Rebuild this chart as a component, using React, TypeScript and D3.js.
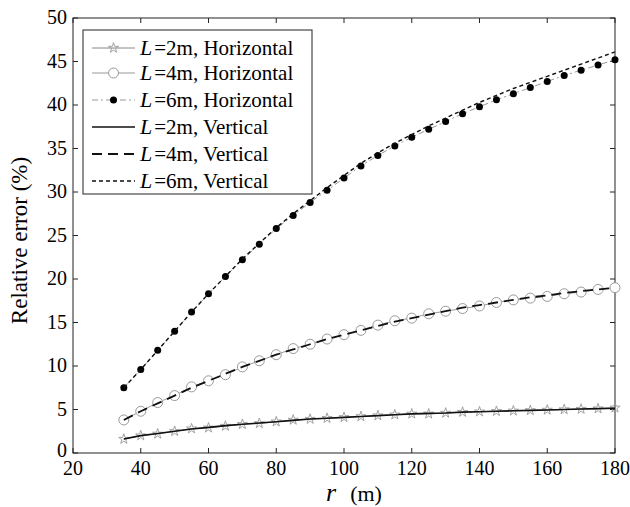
import React from 'react';
import * as d3 from 'd3';

// distance r (m)
const rValues = [35, 40, 45, 50, 55, 60, 65, 70, 75, 80, 85, 90, 95, 100, 105, 110, 115, 120, 125, 130, 135, 140, 145, 150, 155, 160, 165, 170, 175, 180];

const h2 = [1.6, 2.0, 2.2, 2.5, 2.8, 2.9, 3.1, 3.3, 3.4, 3.6, 3.8, 3.9, 4.0, 4.1, 4.2, 4.3, 4.4, 4.5, 4.5, 4.6, 4.7, 4.75, 4.8, 4.85, 4.9, 4.95, 5.0, 5.05, 5.1, 5.2];
const h4 = [3.8, 4.8, 5.8, 6.6, 7.6, 8.3, 9.0, 9.9, 10.6, 11.3, 12.0, 12.5, 13.1, 13.6, 14.1, 14.7, 15.2, 15.5, 16.0, 16.3, 16.6, 16.9, 17.3, 17.6, 17.8, 18.0, 18.3, 18.5, 18.8, 19.0];
const h6 = [7.5, 9.6, 11.8, 14.0, 16.2, 18.3, 20.3, 22.2, 24.0, 25.8, 27.3, 28.8, 30.2, 31.6, 33.0, 34.2, 35.3, 36.3, 37.2, 38.1, 39.0, 39.8, 40.6, 41.3, 42.0, 42.7, 43.4, 44.0, 44.6, 45.2];
const v2 = [1.6, 2.0, 2.25, 2.5, 2.75, 2.95, 3.15, 3.3, 3.45, 3.6, 3.75, 3.9, 4.0, 4.1, 4.2, 4.3, 4.4, 4.5, 4.55, 4.6, 4.7, 4.75, 4.8, 4.85, 4.9, 4.95, 5.0, 5.05, 5.1, 5.15];
const v4 = [3.8, 4.8, 5.7, 6.6, 7.5, 8.3, 9.1, 9.9, 10.6, 11.3, 11.9, 12.5, 13.1, 13.6, 14.1, 14.6, 15.1, 15.5, 15.9, 16.3, 16.7, 17.0, 17.3, 17.6, 17.9, 18.1, 18.4, 18.6, 18.8, 19.0];
const v6 = [7.5, 9.6, 11.8, 14.0, 16.2, 18.3, 20.3, 22.3, 24.1, 25.9, 27.5, 29.0, 30.5, 31.9, 33.3, 34.5, 35.6, 36.6, 37.6, 38.5, 39.4, 40.3, 41.1, 41.9, 42.6, 43.3, 44.0, 44.7, 45.4, 46.1];

const xTicks = [20, 40, 60, 80, 100, 120, 140, 160, 180];
const yTicks = [0, 5, 10, 15, 20, 25, 30, 35, 40, 45, 50];

const series = [
  { len: '2m', kind: 'Horizontal', values: h2, stroke: '#888', dash: '', width: 1, marker: 'star' },
  { len: '4m', kind: 'Horizontal', values: h4, stroke: '#999', dash: '', width: 1, marker: 'circle' },
  { len: '6m', kind: 'Horizontal', values: h6, stroke: '#999', dash: '6 3 2 3', width: 1, marker: 'dot' },
  { len: '2m', kind: 'Vertical', values: v2, stroke: '#111', dash: '', width: 1.6, marker: '' },
  { len: '4m', kind: 'Vertical', values: v4, stroke: '#111', dash: '10 6', width: 1.8, marker: '' },
  { len: '6m', kind: 'Vertical', values: v6, stroke: '#111', dash: '4 3', width: 1.4, marker: '' },
];

const left = 73, right = 615, top = 18, bottom = 453;
const serif = { fontFamily: '"Liberation Serif"' };

const x = d3.scaleLinear().domain([20, 180]).range([left, right]);
const y = d3.scaleLinear().domain([0, 50]).range([bottom, top]);

const starPath = d3.symbol().type(d3.symbolStar).size(32)() || '';

function Marker({ type, cx, cy }: { type: string; cx: number; cy: number }) {
  if (type === 'star') {
    return <path d={starPath} transform={`translate(${cx},${cy})`} fill="none" stroke="#999" strokeWidth={0.9} />;
  }
  if (type === 'circle') {
    return <circle cx={cx} cy={cy} r={5} fill="white" stroke="#999" strokeWidth={1} />;
  }
  if (type === 'dot') {
    return <circle cx={cx} cy={cy} r={3.5} fill="#000" />;
  }
  return null;
}

const App = () => {
  const line = d3.line<number>()
    .x((_, i) => x(rValues[i]))
    .y((d) => y(d));

  const legendRows = [48, 73, 100, 127, 154, 181];

  return (
    <svg width={630} height={507} style={{ position: 'absolute', left: 0, top: 0, background: 'white' }}>
      <rect x={0} y={0} width={630} height={507} fill="white" />
      {/* axes box */}
      <rect x={left} y={top} width={right - left} height={bottom - top} fill="none" stroke="#222" strokeWidth={1} />
      {xTicks.map((t) => (
        <g key={'x' + t}>
          <line x1={x(t)} x2={x(t)} y1={bottom} y2={bottom - 5} stroke="#222" />
          <line x1={x(t)} x2={x(t)} y1={top} y2={top + 5} stroke="#222" />
          <text x={x(t)} y={bottom + 22} textAnchor="middle" style={serif} fontSize={20}>{t}</text>
        </g>
      ))}
      {yTicks.map((t) => (
        <g key={'y' + t}>
          <line x1={left} x2={left + 5} y1={y(t)} y2={y(t)} stroke="#222" />
          <line x1={right} x2={right - 5} y1={y(t)} y2={y(t)} stroke="#222" />
          <text x={left - 6} y={y(t) + (t === 0 ? 4 : 6)} textAnchor="end" style={serif} fontSize={20}>{t}</text>
        </g>
      ))}
      <text transform={`translate(27,${(top + bottom) / 2 + 5}) rotate(-90)`} textAnchor="middle" style={serif} fontSize={23}>
        Relative error (%)
      </text>
      <text x={354} y={501} textAnchor="middle" style={serif} fontSize={22}>
        <tspan fontStyle="italic" fontSize={26}>r</tspan>
        <tspan dx={14}>(m)</tspan>
      </text>

      {/* curves */}
      {series.map((s, si) => (
        <g key={si}>
          <path d={line(s.values) || ''} fill="none" stroke={s.stroke} strokeWidth={s.width} strokeDasharray={s.dash} />
          {s.marker && s.values.map((v, i) => (
            <Marker key={i} type={s.marker} cx={x(rValues[i])} cy={y(v)} />
          ))}
        </g>
      ))}

      {/* legend */}
      <rect x={83} y={30} width={229} height={164} fill="white" stroke="#222" strokeWidth={1} />
      {series.map((s, i) => (
        <g key={'lg' + i}>
          <line x1={92} x2={135} y1={legendRows[i]} y2={legendRows[i]} stroke={s.stroke} strokeWidth={s.width} strokeDasharray={s.dash} />
          <Marker type={s.marker} cx={113.5} cy={legendRows[i]} />
          <text x={140} y={legendRows[i] + 7} style={serif} fontSize={21}>
            <tspan fontStyle="italic" fontSize={22}>L</tspan>
            <tspan dx={2}>{`=${s.len},${s.kind === 'Horizontal' && s.len === '2m' ? ' ' : '  '}${s.kind}`}</tspan>
          </text>
        </g>
      ))}
    </svg>
  );
};

export default App;
